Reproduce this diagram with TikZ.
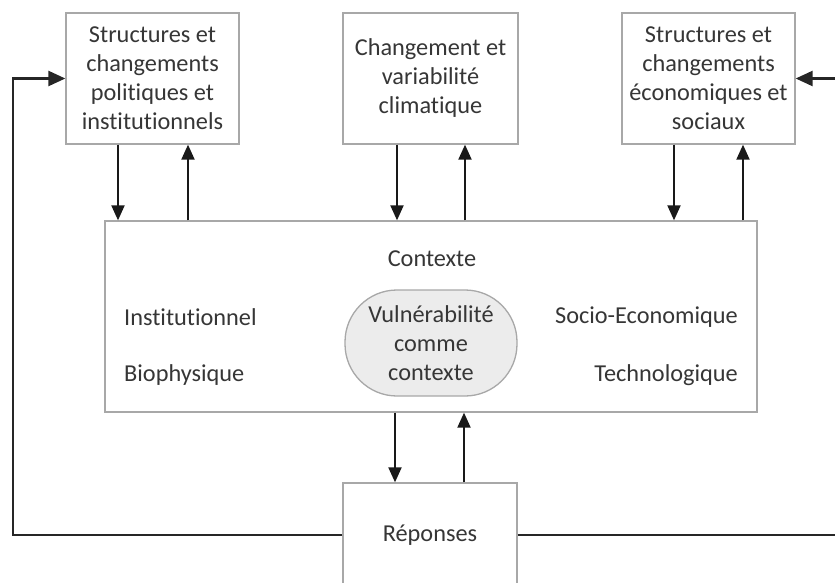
\documentclass[tikz,border=0pt]{standalone}
\usepackage{fontspec}
\setmainfont{Carlito}[Ligatures=NoCommon]
\usetikzlibrary{arrows.meta,shadows}
\definecolor{txt}{HTML}{363636}
\definecolor{bord}{HTML}{A8A8A8}
\definecolor{ovalfill}{HTML}{ECECEC}
\tikzset{
  boxstyle/.style={draw=bord, line width=1.3pt, fill=white, rectangle, align=center,
    text=txt, font=\fontsize{24.3}{29}\selectfont,
    drop shadow={opacity=0.18, shadow xshift=1.2pt, shadow yshift=-1.2pt}},
  lbl/.style={text=txt, font=\fontsize{24.3}{29}\selectfont, inner sep=0pt},
  arr/.style={draw=black!90, line width=2pt, -{Triangle[width=13pt,length=15pt]}},
  fb/.style={draw=black!85, line width=2.4pt},
}
\begin{document}
\begin{tikzpicture}[x=1pt,y=-1pt]
\useasboundingbox (0,0) rectangle (835,583);
\clip (0,0) rectangle (835,583);
% top boxes
\node[boxstyle, minimum width=173pt, minimum height=131pt] (b1) at (152.5,78.5)
  {Structures et\\changements\\politiques et\\institutionnels};
\node[boxstyle, minimum width=175pt, minimum height=131pt] (b2) at (430.5,78.5)
  {Changement et\\variabilit\'e\\climatique};
\node[boxstyle, minimum width=173pt, minimum height=131pt] (b3) at (708.5,78.5)
  {Structures et\\changements\\\'economiques et\\sociaux};
% main box
\node[boxstyle, minimum width=652pt, minimum height=191pt] (main) at (431,316.5) {};
\node[lbl] (ctx) at (432,259) {Contexte};
\node[lbl, anchor=west] (inst) at (124,317) {Institutionnel};
\node[lbl, anchor=west] (bio) at (124,375) {Biophysique};
\node[lbl, anchor=east] (soc) at (738,317) {Socio-Economique};
\node[lbl, anchor=east] (tech) at (738,375) {Technologique};
\node[draw=bord, line width=1.3pt, fill=ovalfill, rounded corners=52pt,
  minimum width=172pt, minimum height=106pt, align=center, text=txt,
  font=\fontsize{24.3}{29}\selectfont] (vul) at (431,343)
  {Vuln\'erabilit\'e\\comme\\contexte};
% responses box
\node[boxstyle, minimum width=174pt, minimum height=104pt] (rep) at (430,535) {R\'eponses};
% x positions
\coordinate (x1) at (118,0);
\coordinate (x2) at (188,0);
\coordinate (x3) at (397,0);
\coordinate (x4) at (465,0);
\coordinate (x5) at (674,0);
\coordinate (x6) at (743,0);
\coordinate (x7) at (395,0);
\coordinate (x8) at (464,0);
% arrows top boxes <-> main
\draw[arr] (b1.south -| x1) -- (main.north -| x1);
\draw[arr] (main.north -| x2) -- (b1.south -| x2);
\draw[arr] (b2.south -| x3) -- (main.north -| x3);
\draw[arr] (main.north -| x4) -- (b2.south -| x4);
\draw[arr] (b3.south -| x5) -- (main.north -| x5);
\draw[arr] (main.north -| x6) -- (b3.south -| x6);
% main <-> responses
\draw[arr] (main.south -| x7) -- (rep.north -| x7);
\draw[arr] (rep.north -| x8) -- (main.south -| x8);
% feedback loops
\coordinate (lc) at (13,300);
\coordinate (rc) at (850,300);
\draw[fb, -{Triangle[width=15pt,length=17pt]}] (rep.west) -| (lc) |- (b1.west);
\draw[fb, -{Triangle[width=15pt,length=17pt]}] (rep.east) -| (rc) |- (b3.east);
\end{tikzpicture}
\end{document}
